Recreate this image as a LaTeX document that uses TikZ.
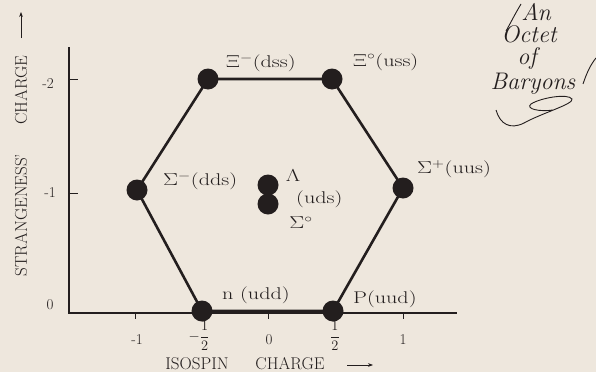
\documentclass[tikz,border=0pt]{standalone}
\usepackage{graphicx}
\usetikzlibrary{arrows.meta}
\definecolor{paper}{RGB}{238,231,221}
\definecolor{ink}{RGB}{35,30,30}
\newcommand{\widetxt}[1]{\scalebox{1.3}[1]{#1}}
\begin{document}
\begin{tikzpicture}[x=1pt,y=-1pt,
  dot/.style={circle, fill=ink, inner sep=0pt, minimum size=21pt},
  hexedge/.style={draw=ink, line width=2.6pt},
  axisline/.style={draw=ink, line width=1.3pt},
  ticks/.style={draw=ink, line width=1pt},
  lbl/.style={text=ink, inner sep=0pt, font=\fontsize{17}{19}\selectfont},
  caps/.style={text=ink, inner sep=0pt, font=\fontsize{17}{19}\selectfont},
  numlbl/.style={text=ink, inner sep=0pt, font=\fontsize{15}{17}\selectfont},
  fraclbl/.style={text=ink, inner sep=0pt, font=\fontsize{13.5}{15}\selectfont},
  titlelbl/.style={text=ink, inner sep=0pt, font=\fontsize{24}{26}\selectfont\itshape},
  flour/.style={draw=ink, line width=0.9pt}]
\fill[paper] (0,0) rectangle (596,372);
\useasboundingbox (0,0) rectangle (596,372);

% axes
\coordinate (ytop) at (69,47);
\coordinate (orig) at (69,313);
\coordinate (xend) at (457,313);
\draw[axisline] (ytop) -- (orig) -- (xend);
% y ticks
\coordinate (yt2a) at (69,79); \coordinate (yt2b) at (78,79);
\coordinate (yt1a) at (69,193); \coordinate (yt1b) at (78,193);
\draw[ticks] (yt2a) -- (yt2b);
\draw[ticks] (yt1a) -- (yt1b);
% x ticks
\foreach \xx/\nm in {135/a,202/b,268/c,335/d,403/e}{
  \coordinate (xt\nm1) at (\xx,313);
  \coordinate (xt\nm2) at (\xx,319);
  \draw[ticks] (xt\nm1) -- (xt\nm2);
}

% tick labels
\node[numlbl] (ym2) at (48,84) {-2};
\node[numlbl] (ym1) at (50,193) {-1};
\node[numlbl] (y0) at (50,305) {0};
\node[numlbl] (xm1) at (137,340) {-1};
\node[fraclbl] (xmh) at (199,336) {$\displaystyle -\frac{1}{2}$};
\node[numlbl] (x0) at (269,340) {0};
\node[fraclbl] (xph) at (335,336) {$\displaystyle \frac{1}{2}$};
\node[numlbl] (xp1) at (403,340) {1};

% axis titles
\node[caps, rotate=90] (ylab1) at (21,215) {STRANGENESS'};
\node[caps, rotate=90] (ylab2) at (21,90) {CHARGE};
\coordinate (yarr1) at (21,38);
\coordinate (yarr2) at (21,12);
\draw[ink, line width=1pt, -{Stealth[length=5pt]}] (yarr1) -- (yarr2);
\node[caps] (xlab1) at (197,364) {ISOSPIN};
\node[caps] (xlab2) at (290,364) {CHARGE};
\coordinate (xarr1) at (347,365);
\coordinate (xarr2) at (373,365);
\draw[ink, line width=1pt, -{Stealth[length=5pt]}] (xarr1) -- (xarr2);

% hexagon vertices
\coordinate (cxim) at (208,79);
\coordinate (cxiz) at (332,79);
\coordinate (csgp) at (403,188);
\coordinate (cp) at (333,311);
\coordinate (cn) at (202,311);
\coordinate (csgm) at (137,190);
\draw[hexedge, line join=round] (cxim) -- (cxiz) -- (csgp) -- (cp) -- (cn) -- (csgm) -- cycle;

\node[dot] (xim) at (cxim) {};
\node[dot] (xiz) at (cxiz) {};
\node[dot] (sgp) at (csgp) {};
\node[dot] (p) at (cp) {};
\node[dot] (n) at (cn) {};
\node[dot] (sgm) at (csgm) {};
\node[dot] (lam) at (268,185) {};
\node[dot] (sgz) at (268,204) {};

% particle labels
\node[lbl, anchor=west] (lxim) at (226,63) {\widetxt{$\Xi^{-}$(dss)}};
\node[lbl, anchor=west] (lxiz) at (353,62) {\widetxt{$\Xi^{\circ}$(uss)}};
\node[lbl, anchor=west] (lsgm) at (163,181) {\widetxt{$\Sigma^{-}$(dds)}};
\node[lbl, anchor=west] (lsgp) at (417,169) {\widetxt{$\Sigma^{+}$(uus)}};
\node[lbl, anchor=west] (ln) at (222,295) {\widetxt{n (udd)}};
\node[lbl, anchor=west] (lp) at (353,299) {\widetxt{P(uud)}};
\node[lbl] (llam) at (293,176) {\widetxt{$\Lambda$}};
\node[lbl, anchor=west] (luds) at (296,199) {\widetxt{(uds)}};
\node[lbl] (lsgz) at (301,223) {\widetxt{$\Sigma^{\circ}$}};

% title
\node[titlelbl] (t1) at (536,12) {An};
\node[titlelbl] (t2) at (529,34) {Octet};
\node[titlelbl] (t3) at (527,58) {of};
\node[titlelbl] (t4) at (533,84) {Baryons};
\draw[flour] (521,4) .. controls (515,14) and (510,24) .. (506,31);
\draw[flour] (583,84) .. controls (587,72) and (591,64) .. (596,58);
\draw[flour] (496,110) .. controls (500,124) and (510,130) .. (524,123)
  .. controls (542,113) and (574,104) .. (572,99)
  .. controls (568,93) and (540,98) .. (531,104)
  .. controls (525,109) and (540,112) .. (553,110);
\end{tikzpicture}
\end{document}
